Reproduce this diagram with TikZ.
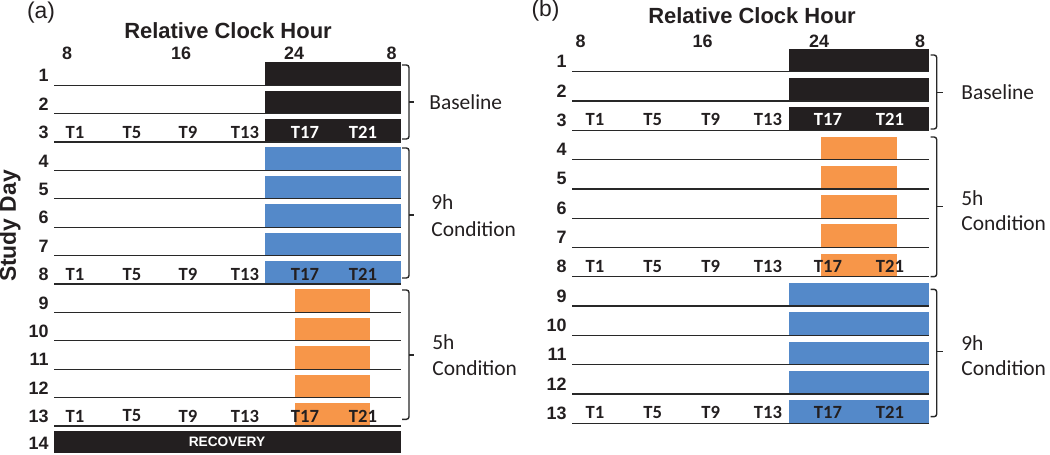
\documentclass[tikz,border=0pt]{standalone}
\usepackage{fontspec}
\setmainfont{Liberation Sans}
\newfontfamily\calfont{Carlito}
\definecolor{boxblack}{RGB}{35,31,32}
\definecolor{boxblue}{RGB}{84,137,201}
\definecolor{boxorange}{RGB}{247,150,73}
\definecolor{linegray}{RGB}{40,40,40}
\begin{document}
\begin{tikzpicture}[x=0.02cm,y=-0.02cm,
  every node/.style={inner sep=0pt, text=boxblack},
  rowline/.style={draw=linegray,line width=0.7pt},
  paneltag/.style={font=\fontsize{13}{15}\selectfont},
  title/.style={font=\fontsize{12.5}{14}\selectfont\bfseries},
  hour/.style={font=\fontsize{10.2}{12}\selectfont\bfseries},
  day/.style={font=\fontsize{10.2}{12}\selectfont\bfseries, anchor=east},
  tlab/.style={font=\calfont\fontsize{10.6}{12}\selectfont\bfseries},
  cond/.style={font=\calfont\fontsize{12.2}{14}\selectfont, anchor=west, align=left},
  brk/.style={draw=linegray, line width=0.8pt, rounded corners=1.5pt}]
\useasboundingbox (0,0) rectangle (1050,455);

% ---------------- panel (a) ----------------
\node[paneltag] (pa) at (41,13) {(a)};
\node[title] (ta) at (228,31) {Relative Clock Hour};
\node[hour] (ha1) at (67,53) {8};
\node[hour] (ha2) at (181,53) {16};
\node[hour] (ha3) at (294,53) {24};
\node[hour] (ha4) at (391.7,53) {8};
\node[rotate=90, font=\fontsize{13}{15}\selectfont\bfseries] (sd) at (10,226) {Study Day};

\foreach \k in {1,...,13} {
  \pgfmathsetmacro\ly{85.2+(\k-1)*28.4}
  \ifnum\k<4
    \fill[boxblack] (265,\ly-23) rectangle (400.5,\ly);
  \else\ifnum\k<9
    \fill[boxblue] (265,\ly-23) rectangle (400.5,\ly);
  \else
    \fill[boxorange] (295,\ly-23) rectangle (370,\ly);
  \fi\fi
  \draw[rowline] (54,\ly) -- (400.5,\ly);
  \node[day] (da\k) at (49,\ly-9.5) {\k};
}
\fill[boxblack] (54,431) rectangle (400.5,453);
\node[day] (da14) at (49,443) {14};
\node[text=white, font=\fontsize{7.8}{9}\selectfont\bfseries] (rec) at (227,442) {RECOVERY};

\foreach \r/\ly/\c in {3/142.2/white, 8/284.2/boxblack, 13/426.0/boxblack} {
  \node[tlab] (tA\r a) at (75,\ly-10) {T1};
  \node[tlab] (tA\r b) at (132,\ly-10) {T5};
  \node[tlab] (tA\r c) at (188,\ly-10) {T9};
  \node[tlab] (tA\r d) at (245,\ly-10) {T13};
  \node[tlab, text=\c] (tA\r e) at (305,\ly-10) {T17};
  \node[tlab, text=\c] (tA\r f) at (363,\ly-10) {T21};
}

% braces (a)
\draw[brk] (402,65) -- (409,65) -- (409,139) -- (402,139);
\draw[brk] (409,102) -- (413.5,102);
\draw[brk] (402,148) -- (409,148) -- (409,278) -- (402,278);
\draw[brk] (409,215) -- (413.5,215);
\draw[brk] (402,290) -- (409,290) -- (409,419.3) -- (402,419.3);
\draw[brk] (409,355) -- (413.5,355);
\node[cond] (la1) at (429,102) {Baseline};
\node[cond] (la2) at (431,202) {9h};
\node[cond] (la3) at (431,229) {Condition};
\node[cond] (la4) at (432,342) {5h};
\node[cond] (la5) at (432,368) {Condition};

% ---------------- panel (b) ----------------
\node[paneltag] (pb) at (545.5,11) {(b)};
\node[title] (tb) at (752,16) {Relative Clock Hour};
\node[hour] (hb1) at (580.7,41) {8};
\node[hour] (hb2) at (702.7,41) {16};
\node[hour] (hb3) at (819,41) {24};
\node[hour] (hb4) at (920,41) {8};

\foreach \k in {1,...,13} {
  \pgfmathsetmacro\ly{71.7+(\k-1)*29.3}
  \ifnum\k<4
    \fill[boxblack] (789,\ly-23) rectangle (929,\ly);
  \else\ifnum\k<9
    \fill[boxorange] (820.7,\ly-23) rectangle (897.3,\ly);
  \else
    \fill[boxblue] (789,\ly-23) rectangle (929,\ly);
  \fi\fi
  \draw[rowline] (572,\ly) -- (929,\ly);
  \node[day] (db\k) at (567,\ly-10) {\k};
}

\foreach \r/\ly/\c in {3/130.3/white, 8/276.8/boxblack, 13/423.3/boxblack} {
  \node[tlab] (tB\r a) at (595,\ly-10.5) {T1};
  \node[tlab] (tB\r b) at (652.7,\ly-10.5) {T5};
  \node[tlab] (tB\r c) at (710.7,\ly-10.5) {T9};
  \node[tlab] (tB\r d) at (768,\ly-10.5) {T13};
  \node[tlab, text=\c] (tB\r e) at (828,\ly-10.5) {T17};
  \node[tlab, text=\c] (tB\r f) at (890,\ly-10.5) {T21};
}

% braces (b)
\draw[brk] (930.5,55) -- (936.7,55) -- (936.7,129) -- (930.5,129);
\draw[brk] (936.7,92.3) -- (942.5,92.3);
\draw[brk] (930.5,137) -- (936.7,137) -- (936.7,276.7) -- (930.5,276.7);
\draw[brk] (936.7,206.7) -- (942.5,206.7);
\draw[brk] (930.5,289.3) -- (936.7,289.3) -- (936.7,416.7) -- (930.5,416.7);
\draw[brk] (936.7,351.7) -- (942.5,351.7);
\node[cond] (lb1) at (961,92) {Baseline};
\node[cond] (lb2) at (961,198) {5h};
\node[cond] (lb3) at (961,223) {Condition};
\node[cond] (lb4) at (961,343) {9h};
\node[cond] (lb5) at (961,368) {Condition};
\end{tikzpicture}
\end{document}
